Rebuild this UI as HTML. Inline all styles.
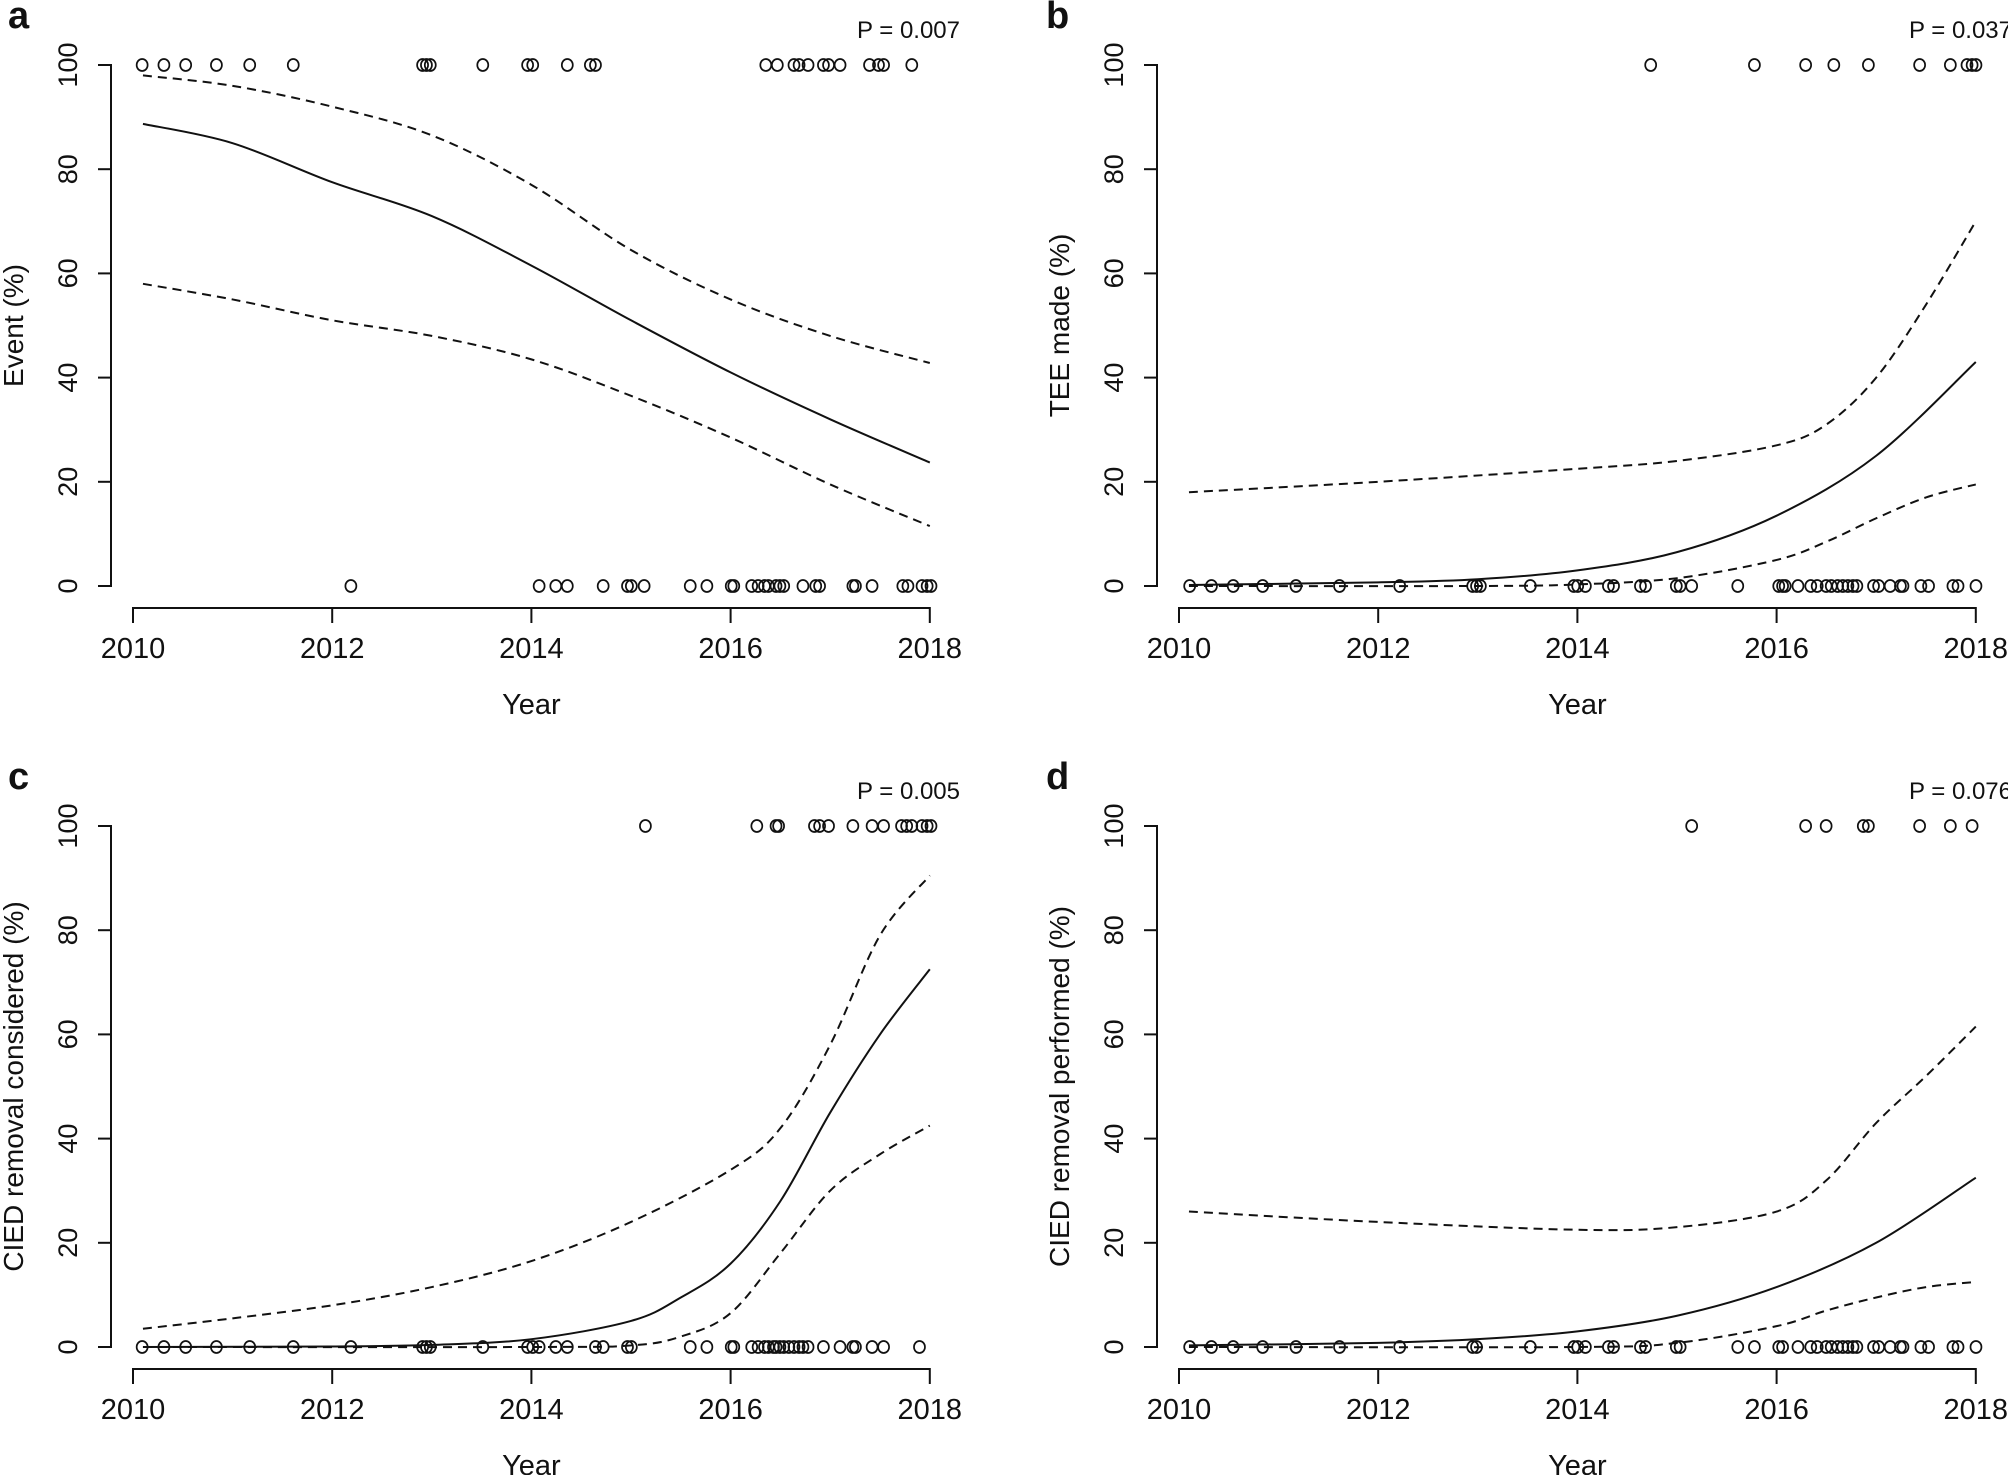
<!DOCTYPE html>
<html><head><meta charset="utf-8"><style>
html,body{margin:0;padding:0;background:#fff}
svg{display:block}
text{font-family:"Liberation Sans Narrow","Liberation Sans",sans-serif;fill:#111}
</style></head><body>
<svg id="s" width="2008" height="1475" viewBox="0 0 2008 1475" xmlns="http://www.w3.org/2000/svg"></svg>
<script>
const S=document.getElementById('s');let h='';
const K=1.2806;
function panel(o){
 const x0=o.x0,dy=o.dy,ax=o.ax;
 const X=y=>x0+(y-2010)*99.6, Y=v=>65+dy+(100-v)*5.21;
 // y axis
 h+=`<path d="M${ax-13} ${Y(100)}H${ax}V${Y(0)}H${ax-13}" fill="none" stroke="#111" stroke-width="2"/>`;
 for(const v of [20,40,60,80]) h+=`<path d="M${ax-13} ${Y(v)}H${ax}" stroke="#111" stroke-width="2"/>`;
 for(const v of [0,20,40,60,80,100]){const yy=Y(v);h+=`<text transform="translate(${ax-34},${yy}) rotate(-90)" text-anchor="middle" font-size="27" font-family="Liberation Sans">${v}</text>`;}
 // x axis
 const xa=608+dy;
 h+=`<path d="M${X(2010)} ${xa+15}V${xa}H${X(2018)}V${xa+15}" fill="none" stroke="#111" stroke-width="2"/>`;
 for(const y of [2012,2014,2016]) h+=`<path d="M${X(y)} ${xa}V${xa+15}" stroke="#111" stroke-width="2"/>`;
 for(const y of [2010,2012,2014,2016,2018]) h+=`<text x="${X(y)}" y="${xa+50}" text-anchor="middle" font-size="29">${y}</text>`;
 h+=`<text x="${X(2014)}" y="${xa+106}" text-anchor="middle" font-size="29">Year</text>`;
 h+=`<text transform="translate(${ax-88},${Y(50)}) rotate(-90)" text-anchor="middle" font-size="28">${o.lab}</text>`;
 h+=`<text x="${o.px}" y="${38+dy}" text-anchor="end" font-size="24">${o.p}</text>`;
 h+=`<text x="${o.lx}" y="${28+dy}" font-size="38" font-weight="bold" font-family="Liberation Sans">${o.L}</text>`;
 const line=(pts,d)=>{
  // Catmull-Rom smooth
  const P=pts.map(p=>[X(p[0]),Y(p[1])]);let s=`M${P[0][0]} ${P[0][1]}`;
  for(let i=0;i<P.length-1;i++){const p0=P[i-1]||P[i],p1=P[i],p2=P[i+1],p3=P[i+2]||P[i+1];
   s+=`C${p1[0]+(p2[0]-p0[0])/6} ${p1[1]+(p2[1]-p0[1])/6} ${p2[0]-(p3[0]-p1[0])/6} ${p2[1]-(p3[1]-p1[1])/6} ${p2[0]} ${p2[1]}`;}
  h+=`<path d="${s}" fill="none" stroke="#111" stroke-width="2" ${d?'stroke-dasharray="9 6"':''}/>`;
 };
 line(o.m,0);line(o.u,1);line(o.l,1);
 for(const m of o.top) h+=`<ellipse cx="${m*K}" cy="${Y(100)}" rx="5.5" ry="6" fill="none" stroke="#111" stroke-width="1.7"/>`;
 for(const m of o.bot) h+=`<ellipse cx="${m*K}" cy="${Y(0)}" rx="5.5" ry="6" fill="none" stroke="#111" stroke-width="1.7"/>`;
}
panel({x0:133,dy:0,ax:111,lab:"Event (%)",p:"P = 0.007",px:960,lx:8,L:"a",
 m:[[2010.1,88.7],[2011,85],[2012,77.5],[2013,71],[2014,61.5],[2015,51],[2016,41],[2017,32],[2018,23.7]],
 u:[[2010.1,98],[2011,96],[2012,92],[2013,86.5],[2014,77],[2015,64.5],[2016,55],[2017,48],[2018,42.8]],
 l:[[2010.1,58],[2011,55],[2012,51],[2013,48],[2014,43.5],[2015,36.5],[2016,28.5],[2017,19.5],[2018,11.5]],
 top:[111,128,145,169,195,229,330,333,336,377,412,416,443,461,465,598,607,620,624,631,643,647,656,679,686,690,712],
 bot:[274,421,434,443,471,490,493,503,539,552,571,573,587,592,597,600,606,609,612,627,637,640,666,668,681,705,709,720,724,727]});
panel({x0:1179,dy:0,ax:1157,lab:"TEE made (%)",p:"P = 0.037",px:2012,lx:1046,L:"b",
 m:[[2010.1,0.2],[2012,0.7],[2013,1.3],[2014,3],[2015,6.5],[2016,13.5],[2017,25],[2018,43]],
 u:[[2010.1,18],[2012,20],[2014,22.5],[2015,24],[2016,27],[2016.5,31],[2017,40],[2017.5,54],[2018,70]],
 l:[[2010.1,0],[2013,0],[2014,0.3],[2015,1.5],[2016,5],[2016.5,8.5],[2017,13],[2017.5,17],[2018,19.5]],
 top:[1289,1370,1410,1432,1459,1499,1523,1536,1540,1543],
 bot:[929,946,963,986,1012,1046,1093,1150,1153,1156,1195,1229,1232,1238,1256,1260,1281,1285,1309,1312,1321,1357,1389,1392,1394,1404,1414,1419,1426,1430,1435,1439,1443,1447,1450,1463,1467,1476,1484,1486,1500,1506,1525,1529,1543]});
panel({x0:133,dy:761,ax:111,lab:"CIED removal considered (%)",p:"P = 0.005",px:960,lx:8,L:"c",
 m:[[2010.1,0],[2012,0.1],[2013,0.4],[2014,1.5],[2015,5],[2015.5,9.5],[2016,16],[2016.5,28],[2017,45],[2017.5,60],[2018,72.5]],
 u:[[2010.1,3.5],[2011,5.5],[2012,8],[2013,11.5],[2014,16.5],[2015,24],[2016,34],[2016.5,42],[2017,58],[2017.5,79],[2018,90.5]],
 l:[[2010.1,0],[2014,0],[2015,0.3],[2015.5,2],[2016,6.5],[2016.5,18],[2017,30],[2017.5,37],[2018,42.5]],
 top:[504,591,606,608,636,640,647,666,681,690,704,708,712,720,724,727],
 bot:[111,128,145,169,195,229,274,330,333,336,377,412,416,421,434,443,465,471,490,493,539,552,571,573,587,592,597,600,604,606,609,612,616,620,624,627,631,643,656,666,668,681,690,718]});
panel({x0:1179,dy:761,ax:1157,lab:"CIED removal performed (%)",p:"P = 0.076",px:2012,lx:1046,L:"d",
 m:[[2010.1,0.3],[2012,0.8],[2013,1.5],[2014,3],[2015,6],[2016,11.5],[2017,20],[2018,32.5]],
 u:[[2010.1,26],[2012,24],[2014,22.5],[2015,23],[2016,26],[2016.5,32],[2017,43],[2017.5,52],[2018,61.5]],
 l:[[2010.1,0],[2014,0],[2015,0.8],[2016,4],[2016.5,7],[2017,9.5],[2017.5,11.5],[2018,12.5]],
 top:[1321,1410,1426,1455,1459,1499,1523,1540],
 bot:[929,946,963,986,1012,1046,1093,1150,1153,1195,1229,1232,1238,1256,1260,1281,1285,1309,1312,1357,1370,1389,1392,1404,1414,1419,1426,1430,1435,1439,1443,1447,1450,1463,1467,1476,1484,1486,1500,1506,1525,1529,1543]});
S.innerHTML=h;
</script>
</body></html>
